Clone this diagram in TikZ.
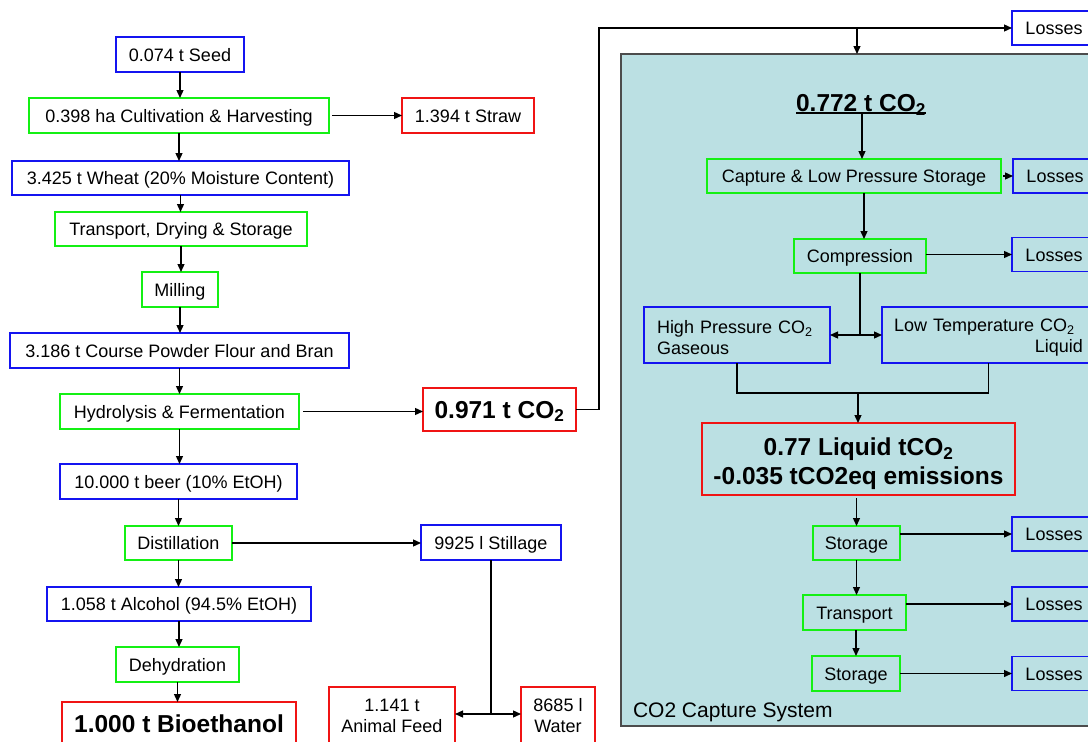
\documentclass[tikz,border=0pt]{standalone}
\usepackage{fontspec}
\setmainfont{Liberation Sans}
\usetikzlibrary{arrows.meta,calc}
\definecolor{bxgreen}{RGB}{20,240,20}
\definecolor{bxblue}{RGB}{20,20,240}
\definecolor{bxred}{RGB}{240,20,20}
\definecolor{sysfill}{RGB}{187,224,227}
\begin{document}
\begin{tikzpicture}[x=1pt,y=-1pt,
 every node/.style={inner sep=0pt, outer sep=0pt, text=black},
 nf/.style={font=\fontsize{18}{21}\selectfont},
 bigf/.style={font=\fontsize{24.5}{29}\selectfont\bfseries},
 one/.style={text height=13pt, text depth=0pt},
 onebig/.style={text height=17.5pt, text depth=0pt},
 box/.style={draw, line width=1.3pt, align=center, nf},
 gbox/.style={box, draw=bxgreen},
 bbox/.style={box, draw=bxblue},
 rbox/.style={box, draw=bxred},
 arr/.style={-{Triangle[length=8pt,width=7pt]}, line width=1.3pt},
 ln/.style={line width=1.3pt},
 loss/.style={bbox, one, anchor=west, minimum width=84pt, minimum height=34pt},
]
\useasboundingbox (0,0) rectangle (1088,742);
% container
\node[draw=black!70, fill=sysfill, line width=1.2pt, minimum width=480pt, minimum height=672pt, anchor=north west] (sys) at (621,54) {};
\node[font=\fontsize{21}{25}\selectfont, text height=15pt, text depth=0pt, anchor=west] (syslbl) at (633,710) {CO2 Capture System};

% left column
\node[bbox, one, minimum width=128pt, minimum height=35pt] (seed) at (180,54.5) {0.074 t Seed};
\node[gbox, one, minimum width=300pt, minimum height=35pt] (cult) at (179,115.5) {0.398 ha Cultivation \& Harvesting};
\node[rbox, one, minimum width=132pt, minimum height=35pt] (straw) at (468,115.5) {1.394 t Straw};
\node[bbox, one, minimum width=337pt, minimum height=34pt] (wheat) at (180.5,178) {3.425 t Wheat (20\% Moisture Content)};
\node[gbox, one, minimum width=252pt, minimum height=34pt] (trans) at (181,229) {Transport, Drying \& Storage};
\node[gbox, one, minimum width=76pt, minimum height=35pt] (mill) at (180,289.5) {Milling};
\node[bbox, one, minimum width=339pt, minimum height=35pt] (flour) at (179.5,350.5) {3.186 t Course Powder Flour and Bran};
\node[gbox, one, minimum width=239pt, minimum height=35pt] (hydro) at (179.5,411.5) {Hydrolysis \& Fermentation};
\node[rbox, bigf, onebig, minimum width=153pt, minimum height=43pt] (co2a) at (499.5,409.5) {0.971 t CO\textsubscript{2}};
\node[bbox, one, minimum width=237pt, minimum height=35pt] (beer) at (178.5,481.5) {10.000 t beer (10\% EtOH)};
\node[gbox, one, minimum width=107pt, minimum height=34pt] (dist) at (178.5,543) {Distillation};
\node[bbox, one, minimum width=140pt, minimum height=35pt] (stil) at (491,542.5) {9925 l Stillage};
\node[bbox, one, minimum width=264pt, minimum height=34pt] (alc) at (179,604) {1.058 t Alcohol (94.5\% EtOH)};
\node[gbox, one, minimum width=123pt, minimum height=35pt] (dehy) at (177.5,664.5) {Dehydration};
\node[rbox, bigf, onebig, minimum width=234pt, minimum height=44pt] (bio) at (179,724) {1.000 t Bioethanol};
\node[rbox, minimum width=126pt, minimum height=58pt] (feed) at (392,716) {1.141 t\\Animal Feed};
\node[rbox, minimum width=74pt, minimum height=58pt] (water) at (558,716) {8685 l\\Water};

% right column
\node[loss] (l0) at (1012,28) {Losses};
\node[bigf, onebig] (t772) at (861,103) {0.772 t CO\textsubscript{2}};
\draw[line width=1.7pt] ([yshift=-1.5pt]t772.base west) -- ([yshift=-1.5pt]t772.base east);
\coordinate (u772) at (862,113);
\node[gbox, one, minimum width=294pt, minimum height=34pt] (capt) at (854,176) {Capture \& Low Pressure Storage};
\node[loss] (l2) at (1013,176) {Losses};
\node[gbox, one, minimum width=132pt, minimum height=34pt] (comp) at (860,256) {Compression};
\node[loss] (l3) at (1012,254.5) {Losses};
\node[bbox, minimum width=186pt, minimum height=56pt, text width=160pt, align=left, text height=18.5pt] (hp) at (737,335) {High Pressure CO\textsubscript{2}\\Gaseous};
\node[bbox, minimum width=213pt, minimum height=56pt, text width=189pt, align=left, text height=18.5pt] (lt) at (988.5,335) {Low Temperature CO\textsubscript{2}\\\hspace*{\fill}Liquid};
\node[rbox, bigf, minimum width=313pt, minimum height=72pt, text height=57pt] (liq) at (858.5,459) {0.77 Liquid tCO\textsubscript{2}\\-0.035 tCO2eq emissions};
\node[gbox, one, minimum width=87pt, minimum height=34pt] (stor1) at (856.5,543) {Storage};
\node[loss] (l4) at (1012,534) {Losses};
\node[gbox, one, minimum width=103pt, minimum height=35pt] (trsp) at (854.5,612.5) {Transport};
\node[loss] (l5) at (1012,604) {Losses};
\node[gbox, one, minimum width=88pt, minimum height=35pt] (stor2) at (856,673.5) {Storage};
\node[loss] (l6) at (1012,673.5) {Losses};

% connectors left
\foreach \a/\b in {seed/cult, cult/wheat, wheat/trans, trans/mill, mill/flour, flour/hydro, hydro/beer, beer/dist, dist/alc, alc/dehy, dehy/bio}
  \draw[arr] (\a.south) -- (\a.south |- \b.north);
\draw[arr] ([xshift=3pt]cult.east) -- (straw.west);
\draw[arr] ([xshift=4pt]hydro.east) -- (co2a.west |- hydro.east);
\draw[arr] (dist.east) -- (stil.west |- dist.east);
\coordinate (sj) at (491,714);
\draw[ln] (stil.south) -- (sj);
\draw[arr] (sj) -- (feed.east |- sj);
\draw[arr] (sj) -- (water.west |- sj);

% CO2 route
\coordinate (c1) at (599,0);
\coordinate (jn) at (857,28);
\draw[arr] (co2a.east) -| (c1 |- l0.west) -- (l0.west);
\draw[arr] (jn) -- (jn |- sys.north);

% connectors right
\draw[arr] (u772) -- (u772 |- capt.north);
\draw[arr] ([xshift=2pt]capt.east) -- (l2.west);
\draw[arr] ([xshift=4pt]comp.north |- capt.south) -- ([xshift=4pt]comp.north);
\draw[arr] (comp.east |- l3.west) -- (l3.west);
\coordinate (cj) at (860,335);
\draw[ln] (comp.south) -- (cj);
\draw[arr] (cj) -- (hp.east |- cj);
\draw[arr] (cj) -- (lt.west |- cj);
\coordinate (mj) at (858,393);
\draw[ln] (hp.south) |- (lt.south |- mj) -- (lt.south);
\draw[arr] (mj) -- (mj |- liq.north);
\draw[arr] ([yshift=-3pt]stor1.north |- liq.south) -- (stor1.north);
\draw[arr] (stor1.south) -- (stor1.south |- trsp.north);
\draw[arr] (trsp.south -| stor2.north) -- (stor2.north);
\draw[arr] (stor1.east |- l4.west) -- (l4.west);
\draw[arr] (trsp.east |- l5.west) -- (l5.west);
\draw[arr] (stor2.east |- l6.west) -- (l6.west);
\end{tikzpicture}
\end{document}
